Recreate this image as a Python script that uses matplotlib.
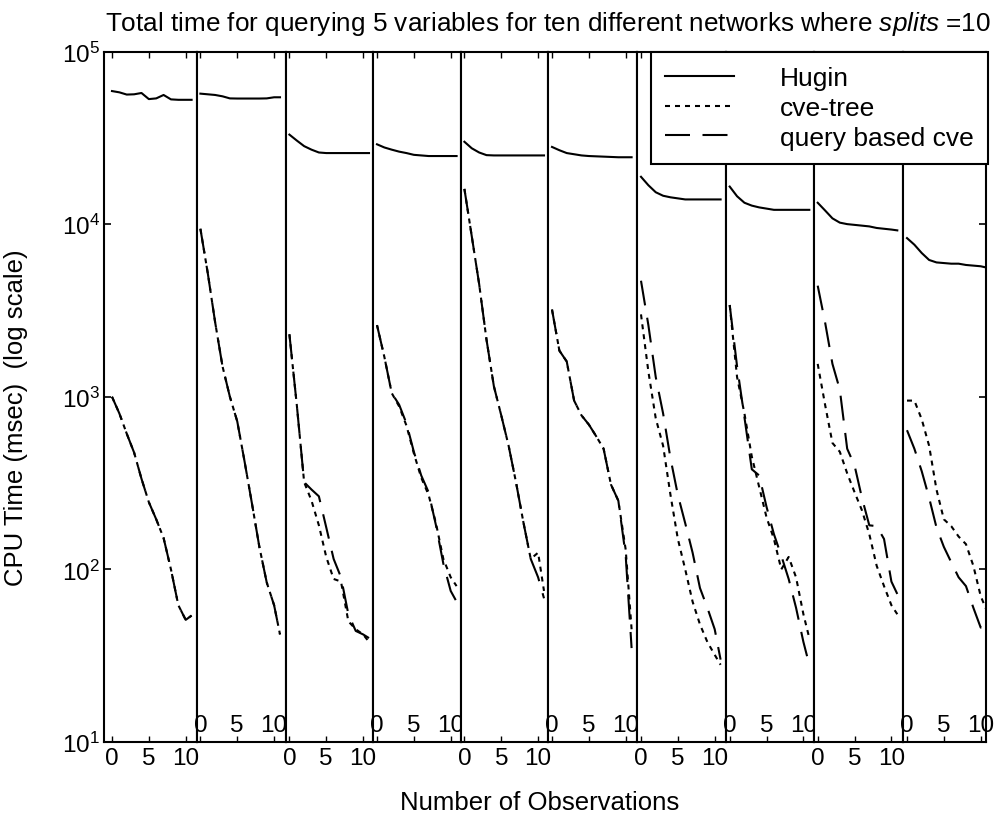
import matplotlib
matplotlib.use("Agg")
import matplotlib.pyplot as plt
from matplotlib.lines import Line2D
from matplotlib.ticker import LogLocator, NullLocator, NullFormatter, FixedLocator

plt.rcParams['font.family'] = ['Liberation Sans', 'DejaVu Sans']
plt.rcParams['mathtext.fontset'] = 'custom'
plt.rcParams['mathtext.rm'] = 'Liberation Sans'
plt.rcParams['mathtext.it'] = 'Liberation Sans:italic'
plt.rcParams['lines.scale_dashes'] = False

# ---------------- data ----------------
obs = [0, 1, 2, 3, 4, 5, 6, 7, 8, 9, 10, 10.8]
xticks = [0, 5, 10]
series_labels = ["Hugin", "cve-tree", "query based cve"]

hugin_1 = [59000, 58000, 56300, 56500, 57500, 53000, 53500, 56000, 52800, 52500, 52500, 52500]
hugin_2 = [57000, 56500, 56000, 55000, 53500, 53400, 53400, 53400, 53400, 53500, 54300, 54300]
hugin_3 = [33000, 30500, 28300, 27000, 26000, 25800, 25800, 25800, 25800, 25800, 25800, 25800]
hugin_4 = [29000, 27800, 27000, 26300, 25800, 25200, 25000, 24800, 24800, 24800, 24800, 24800]
hugin_5 = [30000, 27500, 26000, 25100, 25000, 25000, 25000, 25000, 25000, 25000, 25000, 25000]
hugin_6 = [28000, 26800, 25800, 25400, 25000, 24800, 24700, 24600, 24500, 24400, 24400, 24400]
hugin_7 = [18800, 16800, 15300, 14600, 14300, 14100, 13900, 13900, 13900, 13900, 13900, 13900]
hugin_8 = [16500, 14500, 13300, 12800, 12500, 12300, 12100, 12100, 12100, 12100, 12100, 12100]
hugin_9 = [13300, 12000, 10800, 10200, 10000, 9900, 9800, 9700, 9500, 9400, 9300, 9200]
hugin_10 = [8300, 7600, 6800, 6200, 6000, 5950, 5900, 5900, 5800, 5750, 5700, 5600]

cvetree_1 = [1000, 800, 611, 475, 335, 245, 195, 152, 100, 62, 51, 54]
cvetree_2 = [9400, 5200, 2700, 1500, 1000, 720, 420, 240, 135, 84, 62, 42]
cvetree_3 = [2300, 900, 320, 250, 180, 118, 88, 85, 50, 45, 42, 38]
cvetree_4 = [2600, 1700, 1050, 880, 680, 470, 340, 270, 185, 115, 90, 80]
cvetree_5 = [16000, 8500, 4500, 2140, 1150, 780, 520, 320, 188, 115, 125, 75]
cvetree_6 = [3200, 1850, 1600, 950, 780, 690, 590, 500, 310, 250, 130, 45]
cvetree_7 = [3000, 1400, 750, 520, 270, 150, 100, 65, 48, 38, 32, 28]
cvetree_8 = [3400, 1300, 800, 450, 300, 200, 150, 100, 118, 90, 55, 40]
cvetree_9 = [1550, 900, 540, 480, 360, 280, 220, 160, 105, 80, 62, 55]
cvetree_10 = [950, 950, 740, 520, 290, 195, 178, 155, 140, 105, 70, 58]

qcve_1 = [1000, 800, 611, 475, 335, 245, 195, 152, 100, 62, 51, 54]
qcve_2 = [9400, 5200, 2700, 1500, 1000, 720, 420, 240, 135, 84, 62, 42]
qcve_3 = [2300, 900, 320, 290, 265, 175, 115, 90, 55, 44, 42, 40]
qcve_4 = [2600, 1700, 1050, 900, 700, 480, 350, 280, 180, 108, 75, 65]
qcve_5 = [16000, 8500, 4500, 2140, 1150, 780, 520, 320, 188, 115, 90, 68]
qcve_6 = [3200, 1850, 1600, 950, 780, 690, 590, 500, 310, 250, 120, 35]
qcve_7 = [4700, 2600, 1300, 800, 440, 270, 185, 125, 78, 60, 45, 30]
qcve_8 = [3400, 1500, 760, 380, 350, 230, 160, 120, 88, 60, 38, 28]
qcve_9 = [4400, 2700, 1550, 1100, 500, 400, 260, 180, 178, 150, 85, 72]
qcve_10 = [640, 500, 370, 260, 175, 135, 110, 90, 80, 60, 46, 46]

hugin = [hugin_1, hugin_2, hugin_3, hugin_4, hugin_5, hugin_6, hugin_7, hugin_8, hugin_9, hugin_10]
cvetree = [cvetree_1, cvetree_2, cvetree_3, cvetree_4, cvetree_5, cvetree_6, cvetree_7, cvetree_8, cvetree_9, cvetree_10]
qcve = [qcve_1, qcve_2, qcve_3, qcve_4, qcve_5, qcve_6, qcve_7, qcve_8, qcve_9, qcve_10]

# ---------------- layout ----------------
W, H = 998, 828
fig = plt.figure(figsize=(W / 100, H / 100), dpi=100)
edges = [104, 196.7, 285.7, 373.3, 460.7, 548.3, 637.3, 726, 814, 903.3, 986]
top_px, bot_px = 52.5, 743
ppu = 7.37  # pixels per observation unit

sty_h = dict(color='black', lw=1.5, linestyle='-')
sty_c = dict(color='black', lw=1.5, linestyle=(0, (3.6, 3.6)))
sty_q = dict(color='black', lw=1.5, linestyle=(0, (18, 9)))

TICK_FS = 17.5
for k in range(10):
    l, r = edges[k], edges[k + 1]
    ax = fig.add_axes([l / W, 1 - bot_px / H, (r - l) / W, (bot_px - top_px) / H])
    ax.set_yscale('log')
    ax.set_ylim(10, 1e5)
    zero_px = 112 if k == 0 else l + 3.7
    xmin = -(zero_px - l) / ppu
    ax.set_xlim(xmin, xmin + (r - l) / ppu)
    ax.plot(obs, hugin[k], **sty_h)
    ax.plot(obs, cvetree[k], **sty_c)
    ax.plot(obs, qcve[k], **sty_q)
    for s in ax.spines.values():
        s.set_linewidth(1.5)
    ax.xaxis.set_major_locator(FixedLocator(xticks))
    ax.tick_params(axis='x', direction='in', top=True, length=4, width=1,
                   labelsize=TICK_FS, pad=3.5)
    if k % 2 == 1:
        ax.tick_params(axis='x', labelbottom=False)
        for t in xticks:
            ax.annotate(str(t), xy=(t, 0), xycoords=('data', 'axes fraction'),
                        xytext=(0, 11), textcoords='offset pixels',
                        ha='center', va='baseline', fontsize=TICK_FS)
    ax.yaxis.set_minor_locator(NullLocator())
    ax.yaxis.set_minor_formatter(NullFormatter())
    if k == 0:
        ax.yaxis.set_major_locator(LogLocator(base=10, numticks=10))
        ax.tick_params(axis='y', direction='in', left=True, right=False, length=5,
                       width=1.2, labelsize=TICK_FS, pad=3)
    elif k == 9:
        ax.yaxis.set_major_locator(LogLocator(base=10, numticks=10))
        ax.tick_params(axis='y', direction='in', left=False, right=True, length=5,
                       width=1.2, labelleft=False, labelright=False)
    else:
        ax.tick_params(axis='y', left=False, right=False, labelleft=False)

# legend
handles = [Line2D([], [], **sty_h), Line2D([], [], **sty_c), Line2D([], [], **sty_q)]
leg = fig.legend(handles, series_labels, loc='upper right',
                 bbox_to_anchor=(988.3 / W, 1 - top_px / H), bbox_transform=fig.transFigure,
                 fontsize=19, frameon=True, fancybox=False, framealpha=1,
                 edgecolor='black', borderaxespad=0, borderpad=0.55,
                 handlelength=2.6, handletextpad=1.75, labelspacing=0.22)
leg.get_frame().set_linewidth(1.5)

fig.text(548 / W, 1 - 31.5 / H,
         r"Total time for querying 5 variables for ten different networks where $\mathit{splits}$ =10",
         ha='center', va='baseline', fontsize=18.8)
fig.text(540 / W, 1 - 803 / H, "Number of Observations", ha='center', va='center', fontsize=18.5)
fig.text(16 / W, 1 - 418 / H, "CPU Time (msec)  (log scale)", ha='center', va='center',
         rotation=90, fontsize=18.5)

fig.savefig("out.png", dpi=100)
